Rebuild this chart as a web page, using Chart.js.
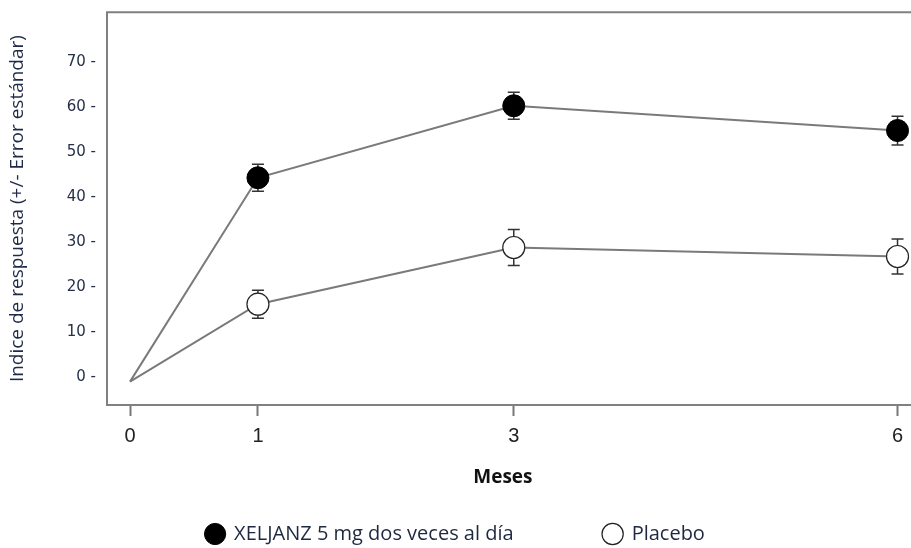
<!DOCTYPE html>
<html>
<head>
<meta charset="utf-8">
<script src="https://cdn.jsdelivr.net/npm/chart.js@4"></script>
<style>
  body { margin: 0; background: #fff; }
  #wrap { width: 911px; height: 548px; }
</style>
</head>
<body>
<div id="wrap"><canvas id="responseChart"></canvas></div>
<script>
// months on the x axis
const months = [0, 1, 3, 6];
const monthTicks = [0, 1, 3, 6];
const yTicks = [0, 10, 20, 30, 40, 50, 60, 70];

// response index (%) and standard error
const xeljanz = [-1, 44.3, 60.3, 54.8];
const xeljanzSE = [0, 3, 3, 3.2];
const placebo = [-1, 16.2, 28.8, 26.8];
const placeboSE = [0, 3.1, 4, 3.9];

const seriesLabels = ['XELJANZ 5 mg dos veces al día', 'Placebo'];

const toPoints = vals => months.map((m, i) => ({ x: m, y: vals[i] }));

// error bars, drawn before the markers so the markers sit on top
const errorBars = {
  id: 'errorBars',
  beforeDatasetsDraw(chart) {
    const { ctx, scales: { x, y } } = chart;
    ctx.save();
    ctx.strokeStyle = '#333';
    ctx.lineWidth = 1.5;
    chart.data.datasets.forEach(ds => {
      ds.data.forEach((p, i) => {
        const se = ds.errors[i];
        if (!se) return;
        const px = x.getPixelForValue(p.x);
        const top = y.getPixelForValue(p.y + se);
        const bot = y.getPixelForValue(p.y - se);
        ctx.beginPath();
        ctx.moveTo(px, top); ctx.lineTo(px, bot);
        ctx.moveTo(px - 6, top); ctx.lineTo(px + 6, top);
        ctx.moveTo(px - 6, bot); ctx.lineTo(px + 6, bot);
        ctx.stroke();
      });
    });
    ctx.restore();
  }
};

// open box: left, top and bottom frame lines, running off the right edge
const frame = {
  id: 'frame',
  beforeDatasetsDraw(chart) {
    const { ctx, chartArea: a } = chart;
    ctx.save();
    ctx.strokeStyle = '#808080';
    ctx.lineWidth = 2;
    ctx.beginPath();
    ctx.moveTo(chart.width, a.top); ctx.lineTo(a.left, a.top);
    ctx.lineTo(a.left, a.bottom); ctx.lineTo(chart.width, a.bottom);
    ctx.stroke();
    ctx.restore();
  }
};

new Chart(document.getElementById('responseChart'), {
  type: 'line',
  data: {
    datasets: [
      {
        label: seriesLabels[0],
        data: toPoints(xeljanz),
        errors: xeljanzSE,
        clip: false,
        borderColor: '#7a7a7a',
        borderWidth: 2,
        pointRadius: [0, 11, 11, 11],
        pointHoverRadius: [0, 11, 11, 11],
        pointBackgroundColor: '#000',
        pointBorderColor: '#000',
        pointBorderWidth: 1
      },
      {
        label: seriesLabels[1],
        data: toPoints(placebo),
        errors: placeboSE,
        clip: false,
        borderColor: '#7a7a7a',
        borderWidth: 2,
        pointRadius: [0, 11, 11, 11],
        pointHoverRadius: [0, 11, 11, 11],
        pointBackgroundColor: '#fff',
        pointBorderColor: '#222',
        pointBorderWidth: 1.2
      }
    ]
  },
  options: {
    responsive: true,
    maintainAspectRatio: false,
    animation: false,
    layout: { padding: { top: 12, left: 0, right: 0, bottom: -6 } },
    scales: {
      x: {
        type: 'linear',
        min: -0.18,
        max: 6.01,
        afterBuildTicks: axis => { axis.ticks = monthTicks.map(v => ({ value: v })); },
        afterFit: axis => {
          axis.height = 89;
          axis.paddingLeft = 0;
          axis.paddingRight = 0;
        },
        border: { display: false },
        grid: { display: true, drawOnChartArea: false, tickLength: 11, tickColor: '#777', tickWidth: 2 },
        ticks: {
          padding: 8,
          color: '#222',
          font: { family: 'Liberation Sans', size: 20 }
        },
        title: {
          display: true,
          text: 'Meses',
          color: '#111',
          font: { family: 'Open Sans', size: 19, weight: 'bold' },
          padding: { top: 0, bottom: 5 }
        }
      },
      y: {
        min: -6.2,
        max: 81.1,
        afterBuildTicks: axis => { axis.ticks = yTicks.map(v => ({ value: v })); },
        afterFit: axis => {
          axis.width = 107;
          axis.paddingTop = 0;
          axis.paddingBottom = 0;
        },
        border: { display: false },
        grid: { display: false, drawTicks: false, tickLength: 0 },
        ticks: {
          padding: 11,
          color: '#26304a',
          font: { family: 'DejaVu Sans', size: 15 },
          callback: v => v + ' -'
        },
        title: {
          display: true,
          text: 'Indice de respuesta (+/- Error estándar)',
          color: '#1f2a48',
          font: { family: 'Open Sans', size: 19 },
          padding: { top: 6, bottom: 0 }
        }
      }
    },
    plugins: {
      tooltip: { enabled: false },
      legend: {
        position: 'bottom',
        labels: {
          usePointStyle: true,
          boxHeight: 15,
          boxWidth: 18,
          padding: 30,
          color: '#1e2840',
          font: { family: 'Open Sans', size: 20 },
          generateLabels: chart => {
            const items = Chart.defaults.plugins.legend.labels.generateLabels(chart);
            items[0].text += '\u2003\u2003\u2003';
            return items;
          }
        }
      }
    }
  },
  plugins: [errorBars, frame]
});
</script>
</body>
</html>
